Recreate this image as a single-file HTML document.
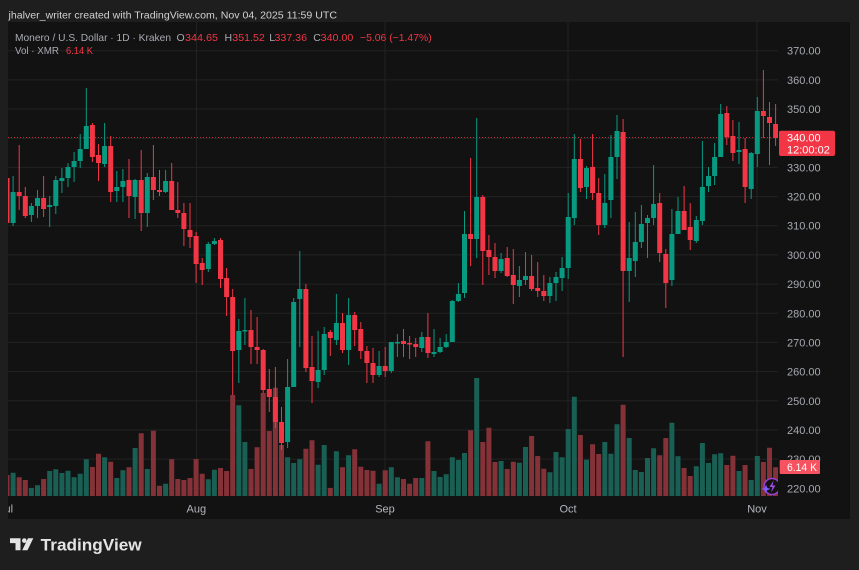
<!DOCTYPE html>
<html><head><meta charset="utf-8"><style>
html,body{margin:0;padding:0;background:#1e1e1e;width:859px;height:570px;overflow:hidden}
svg{display:block}
text{font-family:"Liberation Sans",sans-serif}
</style></head><body>
<svg width="859" height="570" viewBox="0 0 859 570" xmlns="http://www.w3.org/2000/svg">
<defs>
<clipPath id="plot"><rect x="8" y="22" width="770" height="474"/></clipPath>
<clipPath id="panel"><rect x="8" y="22" width="842" height="497"/></clipPath>
</defs>
<rect x="0" y="0" width="859" height="570" fill="#1e1e1e"/>
<rect x="8" y="22" width="842" height="497" fill="#121212"/>
<text x="8.5" y="18.3" font-size="10.5" fill="#d2d2d2" textLength="328.5" lengthAdjust="spacingAndGlyphs">jhalver_writer created with TradingView.com, Nov 04, 2025 11:59 UTC</text>
<g stroke="#222" stroke-width="1">
<path d="M8 50.7H778M8 79.9H778M8 109H778M8 138.2H778M8 167.4H778M8 196.6H778M8 225.7H778M8 254.9H778M8 284.1H778M8 313.3H778M8 342.4H778M8 371.6H778M8 400.8H778M8 430H778M8 459.1H778M8 488.3H778"/>
<path d="M196.5 22V496M385 22V496M568 22V496M757 22V496"/>
</g>
<g clip-path="url(#plot)">
<path fill="#1a5f53" d="M10.6 472.7h5V496h-5zM28.9 488h5V496h-5zM35 485.3h5V496h-5zM47.2 471h5V496h-5zM53.3 469.3h5V496h-5zM59.4 473h5V496h-5zM65.5 470.7h5V496h-5zM71.6 477.3h5V496h-5zM77.7 473.7h5V496h-5zM83.8 459.3h5V496h-5zM102.1 457.3h5V496h-5zM114.3 478h5V496h-5zM120.4 470.3h5V496h-5zM132.6 448h5V496h-5zM144.8 469h5V496h-5zM163.1 483.7h5V496h-5zM205.8 479.3h5V496h-5zM211.9 469.7h5V496h-5zM236.3 405.3h5V496h-5zM242.4 442h5V496h-5zM285.1 457.3h5V496h-5zM291.2 463h5V496h-5zM297.3 459.3h5V496h-5zM315.6 464.7h5V496h-5zM321.7 445h5V496h-5zM333.9 451.3h5V496h-5zM346.1 455.3h5V496h-5zM376.6 483.7h5V496h-5zM388.8 467.3h5V496h-5zM394.9 477.3h5V496h-5zM419.3 478h5V496h-5zM431.5 471h5V496h-5zM437.6 477h5V496h-5zM443.7 474.3h5V496h-5zM449.8 457.3h5V496h-5zM455.9 460h5V496h-5zM462 453h5V496h-5zM474.2 378h5V496h-5zM498.6 461h5V496h-5zM516.9 462.7h5V496h-5zM523 447h5V496h-5zM547.4 472.3h5V496h-5zM553.5 452h5V496h-5zM559.6 457.3h5V496h-5zM565.7 429h5V496h-5zM571.8 396.7h5V496h-5zM584 459.7h5V496h-5zM602.3 442h5V496h-5zM608.4 453.7h5V496h-5zM614.5 424.3h5V496h-5zM626.7 438h5V496h-5zM632.8 470h5V496h-5zM638.9 472h5V496h-5zM645 458h5V496h-5zM651.1 448.3h5V496h-5zM669.4 422.7h5V496h-5zM675.5 456.3h5V496h-5zM693.8 466.3h5V496h-5zM699.9 443h5V496h-5zM706 463h5V496h-5zM712.1 454.3h5V496h-5zM718.2 453.3h5V496h-5zM736.5 471h5V496h-5zM748.7 480h5V496h-5zM754.8 456h5V496h-5z"/>
<path fill="#843238" d="M4.5 475h5V496h-5zM16.7 477.3h5V496h-5zM22.8 480h5V496h-5zM41.1 479h5V496h-5zM89.9 467h5V496h-5zM96 453.7h5V496h-5zM108.2 461.7h5V496h-5zM126.5 467.3h5V496h-5zM138.7 433.3h5V496h-5zM150.9 430.7h5V496h-5zM157 485.7h5V496h-5zM169.2 459.3h5V496h-5zM175.3 479h5V496h-5zM181.4 480h5V496h-5zM187.5 478h5V496h-5zM193.6 459h5V496h-5zM199.7 473.7h5V496h-5zM218 468h5V496h-5zM224.1 471h5V496h-5zM230.2 395h5V496h-5zM248.5 469h5V496h-5zM254.6 447.3h5V496h-5zM260.7 393h5V496h-5zM266.8 431h5V496h-5zM272.9 387.7h5V496h-5zM279 445h5V496h-5zM303.4 448.7h5V496h-5zM309.5 440.3h5V496h-5zM327.8 488h5V496h-5zM340 467.3h5V496h-5zM352.2 449.3h5V496h-5zM358.3 466.7h5V496h-5zM364.4 470h5V496h-5zM370.5 470.7h5V496h-5zM382.7 470.3h5V496h-5zM401 479h5V496h-5zM407.1 483.7h5V496h-5zM413.2 478h5V496h-5zM425.4 441.3h5V496h-5zM468.1 430.3h5V496h-5zM480.3 442h5V496h-5zM486.4 427.7h5V496h-5zM492.5 462h5V496h-5zM504.7 469h5V496h-5zM510.8 461.7h5V496h-5zM529.1 436h5V496h-5zM535.2 456h5V496h-5zM541.3 468.7h5V496h-5zM577.9 435h5V496h-5zM590.1 444.3h5V496h-5zM596.2 454h5V496h-5zM620.6 404.7h5V496h-5zM657.2 455.3h5V496h-5zM663.3 438h5V496h-5zM681.6 468h5V496h-5zM687.7 476h5V496h-5zM724.3 465h5V496h-5zM730.4 455.7h5V496h-5zM742.6 465h5V496h-5zM760.9 462h5V496h-5zM767 447.7h5V496h-5zM773.1 467.3h5V496h-5z"/>
<path d="M8 137.5H778" stroke="#f23645" stroke-width="1" stroke-dasharray="1 2" opacity="0.8"/>
<path stroke="#089981" stroke-width="1" fill="none" d="M13.1 176V226M31.4 203V222M37.5 190V218M49.7 196V227M55.8 176V214M61.9 168V193M68 163V187M74.1 152V182M80.2 134V168M86.3 88V149M104.6 123V167M116.8 171V202M122.9 169V202M135.1 179V219M147.3 173V227M165.6 170V193M208.3 242V272M214.4 238V245M238.8 319V383M244.9 298V345M287.6 359V448M293.7 298V387M299.8 251V347M318.1 331V388M324.2 327V375M336.4 294V345M348.6 298V365M379.1 351V377M391.3 342V373M397.4 334V357M421.8 332V352M434 329V357M440.1 338V353M446.2 334V348M452.3 300V342M458.4 283V302M464.5 211V298M476.7 118V258M501.1 253V273M519.4 266V297M525.5 252V285M549.9 277V303M556 272V301M562.1 257V291M568.2 193V279M574.3 134V225M586.5 166V199M604.8 174V228M610.9 135V218M617 115V179M629.2 222V302M635.3 212V277M641.4 205V248M647.5 215V258M653.6 165V225M671.9 209V286M678 197V234M696.3 216V243M702.4 141V225M708.5 167V192M714.6 143V185M720.7 104V157M739 122V164M751.2 152V199M757.3 97V167"/>
<path fill="#089981" d="M10.6 192h5v31h-5zM28.9 206h5v9h-5zM35 198h5v8h-5zM47.2 205h5v2h-5zM53.3 180h5v26h-5zM59.4 178h5v3h-5zM65.5 167h5v11h-5zM71.6 161h5v6h-5zM77.7 149h5v12h-5zM83.8 126h5v23h-5zM102.1 146h5v18h-5zM114.3 187h5v4h-5zM120.4 181h5v6h-5zM132.6 180h5v17h-5zM144.8 177h5v36h-5zM163.1 181h5v11h-5zM205.8 244h5v25h-5zM211.9 241h5v3h-5zM236.3 331h5v19h-5zM242.4 330h5v1.5h-5zM285.1 387h5v55h-5zM291.2 302h5v85h-5zM297.3 289h5v10h-5zM315.6 370h5v12h-5zM321.7 334h5v36h-5zM333.9 323h5v17h-5zM346.1 315h5v35h-5zM376.6 366h5v9h-5zM388.8 342h5v29h-5zM394.9 342h5v1.5h-5zM419.3 337h5v11h-5zM431.5 352h5v2h-5zM437.6 347h5v5h-5zM443.7 342h5v5h-5zM449.8 301h5v41h-5zM455.9 294h5v7h-5zM462 234h5v59h-5zM474.2 197h5v42h-5zM498.6 259h5v12h-5zM516.9 280h5v6h-5zM523 276h5v4h-5zM547.4 283h5v13h-5zM553.5 277h5v6h-5zM559.6 268h5v10h-5zM565.7 217h5v51h-5zM571.8 159h5v59h-5zM584 168h5v19h-5zM602.3 203h5v22h-5zM608.4 157h5v43h-5zM614.5 131h5v26h-5zM626.7 258h5v13h-5zM632.8 242h5v19h-5zM638.9 224h5v18h-5zM645 218h5v5h-5zM651.1 204h5v14h-5zM669.4 234h5v46h-5zM675.5 211h5v23h-5zM693.8 220h5v21h-5zM699.9 187h5v34h-5zM706 176h5v10h-5zM712.1 157h5v19h-5zM718.2 114h5v43h-5zM736.5 150h5v2h-5zM748.7 153h5v36h-5zM754.8 111h5v43h-5z"/>
<path stroke="#f23645" stroke-width="1" fill="none" d="M7 175V226M19.2 145V210M25.3 187V218M43.6 176V217M92.4 123V162M98.5 144V181M110.7 136V202M129 159V218M141.2 150V231M153.4 145V200M159.5 170V196M171.7 163V210M177.8 182V218M183.9 203V246M190 203V248M196.1 232V283M202.2 258V285M220.5 238V288M226.6 268V316M232.7 289V395M251 310V364M257.1 317V364M263.2 349V393M269.3 369V412M275.4 367V428M281.5 407V450M305.9 284V372M312 336V403M330.3 330V356M342.5 313V353M354.7 312V346M360.8 322V359M366.9 346V383M373 348V383M385.2 347V377M403.5 329V357M409.6 336V359M415.7 338V357M427.9 313V358M470.6 158V266M482.8 195V285M488.9 235V275M495 243V278M507.2 247V277M513.3 249V304M531.6 255V291M537.7 262V297M543.8 275V301M580.4 139V192M592.6 134V200M598.7 178V235M623.1 119V357M659.7 193V262M665.8 249V308M684.1 186V230M690.2 203V250M726.8 106V145M732.9 120V161M745.1 138V203M763.4 70V138M769.5 102V165M775.6 104V146"/>
<path fill="#f23645" d="M4.5 178h5v45h-5zM16.7 192h5v4h-5zM22.8 196h5v20h-5zM41.1 198h5v11h-5zM89.9 125h5v32h-5zM96 155h5v8h-5zM108.2 146h5v46h-5zM126.5 180h5v16h-5zM138.7 180h5v33h-5zM150.9 177h5v13h-5zM157 190h5v2h-5zM169.2 181h5v29h-5zM175.3 210h5v3h-5zM181.4 213h5v16h-5zM187.5 230h5v7h-5zM193.6 236h5v28h-5zM199.7 263h5v7h-5zM218 240h5v39h-5zM224.1 278h5v19h-5zM230.2 297h5v54h-5zM248.5 330h5v17h-5zM254.6 347h5v3h-5zM260.7 350h5v40h-5zM266.8 389h5v8h-5zM272.9 397h5v25h-5zM279 422h5v21h-5zM303.4 289h5v79h-5zM309.5 367h5v14h-5zM327.8 332h5v6h-5zM340 323h5v27h-5zM352.2 315h5v15h-5zM358.3 329h5v22h-5zM364.4 351h5v12h-5zM370.5 363h5v12h-5zM382.7 366h5v5h-5zM401 341h5v3h-5zM407.1 343h5v1.5h-5zM413.2 344h5v3h-5zM425.4 337h5v16h-5zM468.1 234h5v5h-5zM480.3 197h5v54h-5zM486.4 250h5v7h-5zM492.5 257h5v14h-5zM504.7 258h5v18h-5zM510.8 275h5v10h-5zM529.1 276h5v13h-5zM535.2 288h5v3h-5zM541.3 291h5v5h-5zM577.9 159h5v29h-5zM590.1 167h5v26h-5zM596.2 193h5v32h-5zM620.6 132h5v139h-5zM657.2 203h5v50h-5zM663.3 254h5v29h-5zM681.6 211h5v19h-5zM687.7 227h5v13h-5zM724.3 113h5v24h-5zM730.4 136h5v17h-5zM742.6 149h5v38h-5zM760.9 111h5v5h-5zM767 117h5v6h-5zM773.1 124h5v14h-5z"/>
<circle cx="772" cy="486.5" r="8" fill="#121212" stroke="#9a3dd1" stroke-width="1.6"/>
<path d="M773.5 480.5l-4 6.5h3l-1.5 5.5l4.5-7h-3z" fill="#a04ee0"/>
<path d="M766 484.5l1.2 3.3l3.3 1.2l-3.3 1.2l-1.2 3.3l-1.2-3.3l-3.3-1.2l3.3-1.2z" fill="#7a5cff"/>
</g>
<g font-size="11" fill="#a6a9b1">
<text x="787" y="54.7">370.00</text>
<text x="787" y="83.9">360.00</text>
<text x="787" y="113">350.00</text>
<text x="787" y="171.4">330.00</text>
<text x="787" y="200.6">320.00</text>
<text x="787" y="229.7">310.00</text>
<text x="787" y="258.9">300.00</text>
<text x="787" y="288.1">290.00</text>
<text x="787" y="317.3">280.00</text>
<text x="787" y="346.4">270.00</text>
<text x="787" y="375.6">260.00</text>
<text x="787" y="404.8">250.00</text>
<text x="787" y="434">240.00</text>
<text x="787" y="463.1">230.00</text>
<text x="787" y="492.3">220.00</text>
</g>
<rect x="779" y="130.7" width="56" height="25.3" rx="2" fill="#f23645"/>
<text x="787" y="141.7" font-size="11" fill="#ffffff">340.00</text>
<text x="787" y="153.7" font-size="11" fill="#ffffff">12:00:02</text>
<rect x="779.7" y="460" width="40.3" height="14" rx="1" fill="#f7525f"/>
<text x="787" y="471" font-size="11" fill="#ffffff" textLength="30" lengthAdjust="spacingAndGlyphs">6.14 K</text>
<g font-size="11" fill="#b4b6bd" text-anchor="middle" clip-path="url(#panel)">
<text x="6" y="512.5">Jul</text>
<text x="196.3" y="512.5">Aug</text>
<text x="385" y="512.5">Sep</text>
<text x="568" y="512.5">Oct</text>
<text x="757" y="512.5">Nov</text>
</g>
<g font-size="10.5">
<text x="15" y="41" fill="#a9abb3" textLength="156" lengthAdjust="spacingAndGlyphs">Monero / U.S. Dollar · 1D · Kraken</text>
<text x="176.5" y="41" fill="#a9abb3">O</text>
<text x="185" y="41" fill="#f23645" textLength="33" lengthAdjust="spacingAndGlyphs">344.65</text>
<text x="224.5" y="41" fill="#a9abb3">H</text>
<text x="232.3" y="41" fill="#f23645" textLength="32.5" lengthAdjust="spacingAndGlyphs">351.52</text>
<text x="269.3" y="41" fill="#a9abb3">L</text>
<text x="274.5" y="41" fill="#f23645" textLength="32.5" lengthAdjust="spacingAndGlyphs">337.36</text>
<text x="313.3" y="41" fill="#a9abb3">C</text>
<text x="320.7" y="41" fill="#f23645" textLength="32.6" lengthAdjust="spacingAndGlyphs">340.00</text>
<text x="360" y="41" fill="#f23645" textLength="71.7" lengthAdjust="spacingAndGlyphs">−5.06 (−1.47%)</text>
<text x="15" y="54" fill="#a9abb3" textLength="44" lengthAdjust="spacingAndGlyphs">Vol · XMR</text>
<text x="66" y="54" fill="#f23645" textLength="27" lengthAdjust="spacingAndGlyphs">6.14 K</text>
</g>
<g fill="#e4e4e4">
<path d="M10 538.3h10.5v12h-5v-7.2h-5.5z"/>
<circle cx="24.3" cy="540.6" r="2.3"/>
<path d="M28 538.3h5.3l-5.8 12h-5.3z"/>
<text x="40.7" y="550.5" font-size="17" font-weight="bold" textLength="101" lengthAdjust="spacingAndGlyphs">TradingView</text>
</g>
</svg>
</body></html>
